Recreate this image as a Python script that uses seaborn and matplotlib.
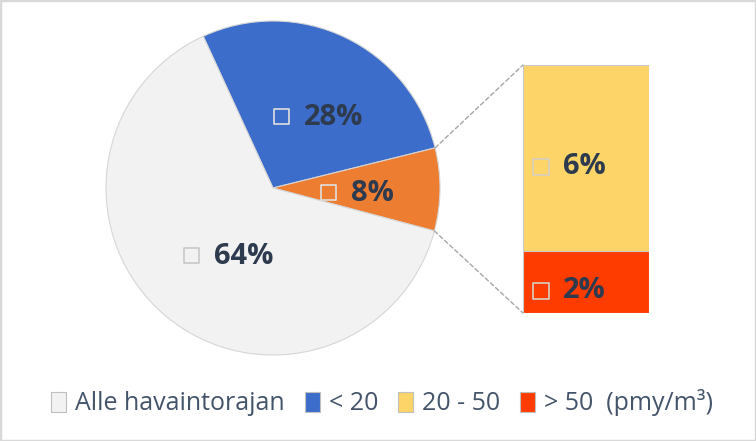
import numpy as np
import pandas as pd
import matplotlib
matplotlib.use("Agg")
import matplotlib.pyplot as plt
import seaborn as sns
from matplotlib.patches import Patch, Rectangle, ConnectionPatch
from matplotlib.transforms import ScaledTranslation

# pie: share of samples by class (%)
pie_categories = ["< 20", "20 - 50 / > 50", "Alle havaintorajan"]
pie_values = [28, 8, 64]
pie_colors = ["#3D6DCA", "#ED7D31", "#F2F2F2"]

# bar of pie: split of the orange slice, bottom to top
bar_categories = ["> 50", "20 - 50"]
bar_values = [2, 6]
bar_colors = ["#FF3C00", "#FDD467"]

legend_labels = ["Alle havaintorajan", "< 20", "20 - 50", "> 50  (pmy/m³)"]
legend_colors = ["#F2F2F2", "#3D6DCA", "#FDD467", "#FF3C00"]

label_color = "#2E3A4E"
W, H = 756, 441

sns.set_style("white")
plt.rcParams["font.family"] = ["Open Sans", "DejaVu Sans"]

fig = plt.figure(figsize=(W / 100, H / 100), dpi=100)
fig.patch.set_facecolor("white")

# pie axes (center 273,188 / radius 167 px)
cx, cy, r = 273, 188, 167
ax_pie = fig.add_axes([(cx - r) / W, (H - cy - r) / H, 2 * r / W, 2 * r / H])
wedges, _ = ax_pie.pie(pie_values, colors=pie_colors, startangle=114.7,
                       counterclock=False, radius=1,
                       wedgeprops=dict(edgecolor="#D6D6D6", linewidth=0.8))
ax_pie.set_xlim(-1, 1)
ax_pie.set_ylim(-1, 1)
ax_pie.set_aspect("equal")
ax_pie.axis("off")

for w, v in zip(wedges, pie_values):
    mid = np.deg2rad((w.theta1 + w.theta2) / 2)
    px, py = 0.5 * np.cos(mid), 0.5 * np.sin(mid)
    ax_pie.scatter([px], [py], marker="s", s=120, facecolor="none",
                   edgecolor="#E0E0E0" if v != 64 else "#C8C8C8", linewidth=1.2,
                   transform=ax_pie.transData + ScaledTranslation(-28 / 100, -4 / 100, fig.dpi_scale_trans))
    ax_pie.annotate(f"{v}%", (px, py), xytext=(-5, -5), textcoords="offset pixels",
                    ha="left", va="center", fontsize=21, fontweight="bold",
                    color=label_color)

# bar axes
bx0, bx1, by0, by1 = 523, 649, 65, 313
ax_bar = fig.add_axes([bx0 / W, (H - by1) / H, (bx1 - bx0) / W, (by1 - by0) / H])
cum = np.cumsum(bar_values)
df = pd.DataFrame({"seg": bar_categories, "value": bar_values, "top": cum})
for i in range(len(df) - 1, -1, -1):
    sns.barplot(x=["x"], y=[df["top"].iloc[i]], color=bar_colors[i], width=1,
                edgecolor="#C9C9C9", linewidth=0.8, saturation=1, ax=ax_bar)
ax_bar.set_xlim(-0.5, 0.5)
ax_bar.set_ylim(0, cum[-1])
ax_bar.axis("off")

for i in range(len(df)):
    yc = df["top"].iloc[i] - df["value"].iloc[i] / 2
    ax_bar.scatter([0], [yc], marker="s", s=120, facecolor="none",
                   edgecolor="#D9CFC0", linewidth=1.2,
                   transform=ax_bar.transData + ScaledTranslation(-45 / 100, -9 / 100, fig.dpi_scale_trans))
    ax_bar.annotate(f"{df['value'].iloc[i]}%", (0, yc), xytext=(-23, -9),
                    textcoords="offset pixels", ha="left", va="center",
                    fontsize=21, fontweight="bold", color=label_color)

# dashed connectors from orange slice to bar
ow = wedges[1]
for ang, yb in [(ow.theta2, cum[-1]), (ow.theta1, 0)]:
    a = np.deg2rad(ang)
    con = ConnectionPatch(xyA=(np.cos(a), np.sin(a)), coordsA=ax_pie.transData,
                          xyB=(-0.5, yb), coordsB=ax_bar.transData,
                          color="#A6A6A6", linestyle=(0, (3, 2)), linewidth=1)
    fig.add_artist(con)

handles = [Patch(facecolor=c, edgecolor="#BFBFBF", linewidth=0.8) for c in legend_colors]
fig.legend(handles, legend_labels, loc="center", bbox_to_anchor=(382 / W, 1 - 403 / H),
           ncol=4, frameon=False, fontsize=18, handlelength=0.6, handleheight=0.85,
           handletextpad=0.35, columnspacing=0.8, labelcolor="#44546A")

fig.add_artist(Rectangle((0, 0), 1, 1, transform=fig.transFigure, fill=False,
                         edgecolor="#D9D9D9", linewidth=2.5))

fig.savefig("out.png", dpi=100)
